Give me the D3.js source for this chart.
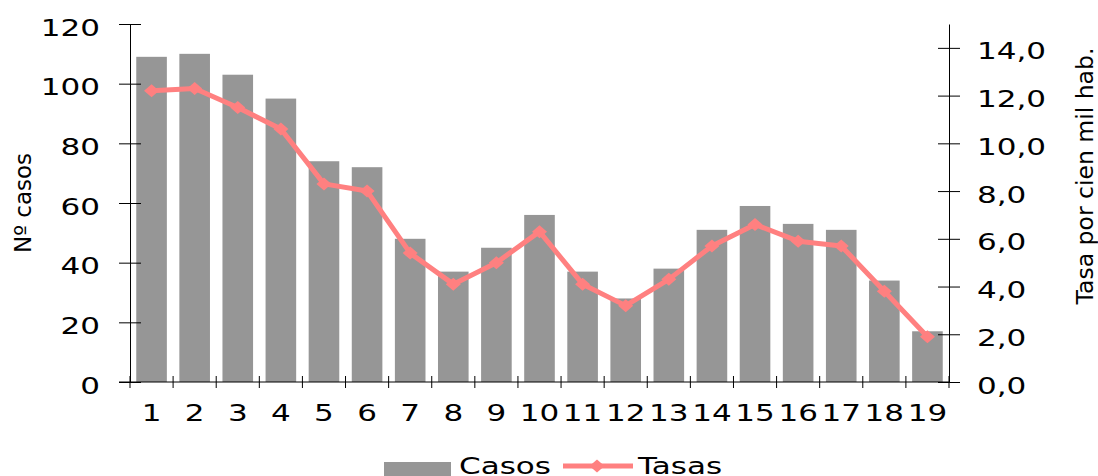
<!DOCTYPE html>
<html>
<head>
<meta charset="utf-8">
<script src="https://cdn.jsdelivr.net/npm/d3@7"></script>
<style>
  html, body { margin: 0; padding: 0; background: #fff; }
  svg { display: block; }
  text { font-family: "DejaVu Sans", Verdana, sans-serif; fill: #000; }
</style>
</head>
<body>
<svg id="chart" width="1098" height="476"></svg>
<script>
const categories = ["1","2","3","4","5","6","7","8","9","10","11","12","13","14","15","16","17","18","19"];
const casos = [109,110,103,95,74,72,48,37,45,56,37,28,38,51,59,53,51,34,17];
const tasas = [12.2,12.3,11.5,10.6,8.3,8.0,5.4,4.1,5.0,6.3,4.1,3.2,4.3,5.7,6.6,5.9,5.7,3.8,1.9];
const leftTicks = [0,20,40,60,80,100,120];
const rightTicks = [0,2,4,6,8,10,12,14];
const seriesNames = ["Casos","Tasas"];
const leftTitle = "Nº casos";
const rightTitle = "Tasa por cien mil hab.";

const W = 1098, H = 476;
const plot = {left: 130, right: 949, top: 24, bottom: 382};
const barColor = "#969696";
const lineColor = "#FF8080";
const SX = 1.35;
const FS = 23;

const svg = d3.select("#chart");

const x = d3.scaleBand().domain(categories).range([plot.left, plot.right]).paddingInner(0.29).paddingOuter(0.145);
const xb = d3.scaleBand().domain(categories).range([plot.left, plot.right]);
const yL = d3.scaleLinear().domain([0,120]).range([plot.bottom, plot.top]);
const yR = d3.scaleLinear().domain([0,15]).range([plot.bottom, plot.top]);

// bars
svg.append("g").selectAll("rect").data(casos).join("rect")
  .attr("x", (d,i) => x(categories[i]))
  .attr("y", d => yL(d))
  .attr("width", x.bandwidth())
  .attr("height", d => yL(0) - yL(d))
  .attr("fill", barColor);

// left axis
const gL = svg.append("g").attr("transform", `translate(${plot.left},0)`)
  .call(d3.axisLeft(yL).tickValues(leftTicks).tickSizeInner(11).tickSizeOuter(0).tickFormat(d3.format("d")));
gL.select(".domain").attr("stroke", "#000");
gL.selectAll(".tick line").attr("x1", 11).attr("stroke", "#000");
gL.selectAll(".tick text").attr("x", null).attr("dy", null)
  .attr("text-anchor", "end").attr("font-size", FS)
  .attr("font-family", "DejaVu Sans, Verdana, sans-serif")
  .attr("transform", `translate(-30,11) scale(${SX},1)`);

// right axis
const fmtR = d => d3.format(".1f")(d).replace(".", ",");
const gR = svg.append("g").attr("transform", `translate(${plot.right},0)`)
  .call(d3.axisRight(yR).tickValues(rightTicks).tickSizeInner(11).tickSizeOuter(0).tickFormat(fmtR));
gR.select(".domain").attr("stroke", "#000");
gR.selectAll(".tick line").attr("x1", -11).attr("stroke", "#000");
gR.selectAll(".tick text").attr("x", null).attr("dy", null)
  .attr("text-anchor", "start").attr("font-size", FS)
  .attr("font-family", "DejaVu Sans, Verdana, sans-serif")
  .attr("transform", `translate(28,11) scale(${SX},1)`);

// x axis
const gX = svg.append("g").attr("transform", `translate(0,${plot.bottom})`)
  .call(d3.axisBottom(xb).tickSize(0).tickSizeOuter(0));
gX.select(".domain").attr("stroke", "#000").attr("d", `M${plot.left - 11},0H${plot.right}`);
gX.selectAll(".tick text").attr("y", null).attr("dy", null)
  .attr("text-anchor", "middle").attr("font-size", FS)
  .attr("font-family", "DejaVu Sans, Verdana, sans-serif")
  .attr("transform", `translate(0,39) scale(${SX},1)`);
// boundary ticks
const bounds = categories.map(c => xb(c)).concat([plot.right]);
gX.append("g").selectAll("line").data(bounds).join("line")
  .attr("x1", d => d).attr("x2", d => d)
  .attr("y1", -6).attr("y2", 6)
  .attr("stroke", "#000");

// line
const line = d3.line()
  .x((d,i) => xb(categories[i]) + xb.bandwidth()/2)
  .y(d => yR(d));
svg.append("path").datum(tasas)
  .attr("d", line)
  .attr("fill", "none")
  .attr("stroke", lineColor)
  .attr("stroke-width", 5)
  .attr("stroke-linejoin", "round");

const diamond = (cx, cy) => `M${cx-7.5},${cy}L${cx},${cy-6.5}L${cx+7.5},${cy}L${cx},${cy+6.5}Z`;
svg.append("g").selectAll("path").data(tasas).join("path")
  .attr("d", (d,i) => diamond(xb(categories[i]) + xb.bandwidth()/2, yR(d)))
  .attr("fill", lineColor);

// axis titles
svg.append("text")
  .attr("transform", `translate(31,203) rotate(-90)`)
  .attr("text-anchor", "middle")
  .attr("font-size", 23)
  .text(leftTitle);
svg.append("text")
  .attr("transform", `translate(1093,176) rotate(-90)`)
  .attr("text-anchor", "middle")
  .attr("font-size", 23.5)
  .text(rightTitle);

// legend
const lg = svg.append("g");
lg.append("rect").attr("x", 384).attr("y", 462).attr("width", 67).attr("height", 16).attr("fill", barColor);
lg.append("text").attr("transform", `translate(459,474) scale(${SX},1)`).attr("font-size", FS).text(seriesNames[0]);
lg.append("line").attr("x1", 563).attr("x2", 633).attr("y1", 466).attr("y2", 466)
  .attr("stroke", lineColor).attr("stroke-width", 5);
lg.append("path").attr("d", diamond(597, 466)).attr("fill", lineColor);
lg.append("text").attr("transform", `translate(638,474) scale(${SX},1)`).attr("font-size", FS).text(seriesNames[1]);
</script>
</body>
</html>
